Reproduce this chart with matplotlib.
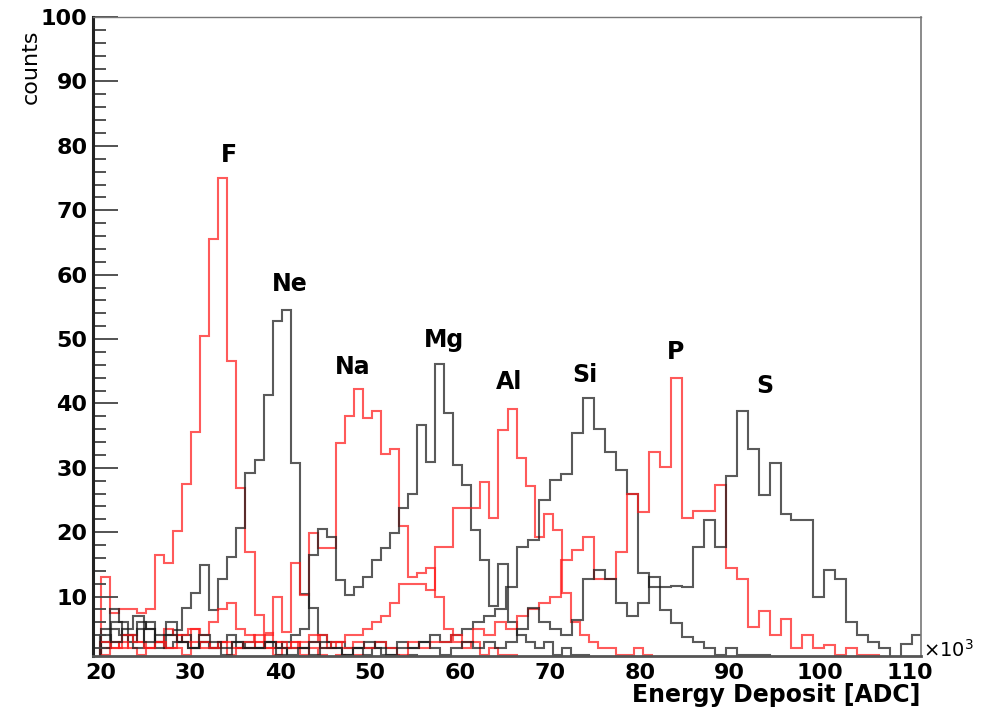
import numpy as np
import matplotlib
matplotlib.use("Agg")
import matplotlib.pyplot as plt
from matplotlib.ticker import MultipleLocator

# ---- binning (in units of 10^3 ADC) ----
light_start, light_width = 20.05, 1.005   # F, Ne, Na, Mg, Al
heavy_start, heavy_width = 20.0, 1.22     # Si, P, S

# ---- counts per bin ----
F_counts = [13, 7.5, 8, 8, 7.5, 8, 16.5, 15.2, 20.2, 27.5, 35.5, 50.5, 65.6, 75, 46.6,
            26.8, 17, 7.1, 4.3, 3, 2, 3, 1, 2, 1, 0, 1, 0, 1]
Ne_counts = [5, 8, 6, 4, 6, 5, 3, 4, 4.8, 8.2, 10.5, 14.9, 7.9, 12.8, 16.1, 20.6, 29.2,
             31.2, 41.3, 52.8, 54.5, 30.8, 10.4, 8.2, 4, 3, 3, 2, 2, 1, 2, 1, 1, 0, 1]
Na_counts = [2, 3, 2, 4, 3, 2, 3, 5, 4, 3, 5, 4, 6, 8, 9, 5, 4, 3, 4, 10, 4.5, 15.2,
             10.2, 19.9, 17.5, 17.5, 33.8, 38, 42.2, 37.7, 38.8, 32.1, 33, 20.9, 13.1,
             13.6, 14.4, 10, 5, 3, 2, 3, 1, 2, 1, 1]
Mg_counts = [3, 5, 4, 3, 5, 6, 3, 2, 3, 4, 2, 3, 2, 3, 4, 2, 3, 2, 3, 2, 3, 4, 5, 16.5,
             20.5, 19.3, 12.6, 10.2, 11.5, 13.1, 15.7, 17.5, 19.8, 23.7, 26, 36.6, 30.9,
             46.2, 38.5, 30.4, 27.3, 20.3, 15.7, 8.5, 15, 6, 4, 3, 2, 3, 1, 2, 1, 1]
Al_counts = [1, 2, 3, 2, 1, 2, 3, 2, 2, 1, 3, 2, 2, 3, 1, 2, 2, 3, 2, 1, 2, 3, 2, 3, 4,
             2, 3, 4, 4, 5, 6, 7, 9, 12, 12, 12, 11, 17.7, 17.7, 23.7, 23.7, 23.7, 27.8,
             22.2, 35.9, 39.2, 31.5, 27.1, 19.3, 22.9, 20.4, 10.5, 6, 4, 3, 2, 2, 1, 1,
             2, 1]
Si_counts = [2, 6, 4, 2, 5, 2, 4, 3, 2, 3, 2, 1, 3, 2, 2, 3, 1, 2, 2, 1, 3, 2, 1, 2, 2,
             3, 2, 3, 2, 3, 4, 3, 4, 5, 6, 7, 8, 11.5, 17.7, 18.8, 25, 28.1, 29.1, 35.4,
             40.8, 36.1, 32.5, 29.7, 26, 13.6, 11.5, 7.9, 5.9, 3.8, 3, 2, 1, 2, 1, 1, 1]
P_counts = [3, 2, 4, 3, 2, 3, 2, 4, 5, 3, 2, 3, 2, 3, 4, 2, 3, 2, 3, 4, 2, 3, 2, 3, 2,
            3, 2, 1, 3, 2, 3, 3, 4, 3, 5, 4, 6, 5, 7, 8, 9, 10, 15.7, 17.2, 19.3, 12.8,
            12.8, 17, 26, 23.2, 32.5, 30.2, 44, 22.2, 23.3, 23.3, 27.3, 14.4, 12.8, 5.3,
            7.7, 4, 6.5, 2, 4, 2, 2.5, 1, 2, 1, 1]
S_counts = [4, 3, 5, 7, 3, 4, 6, 3, 2, 4, 3, 2, 3, 2, 2, 3, 2, 1, 2, 3, 2, 2, 1, 2, 3,
            2, 1, 2, 2, 3, 2, 1, 2, 3, 2, 3, 2, 3, 5, 8.2, 6, 5, 4, 6.4, 12.8, 14.1, 12.8,
            9, 7, 9, 13.1, 11.5, 11.7, 11.5, 17.7, 21.9, 17.7, 28.8, 38.9, 32.9, 25.8,
            30.7, 22.9, 21.9, 21.9, 10, 14.1, 12.8, 6, 4, 3, 2, 0, 2.7, 4]

elements = ["F", "Ne", "Na", "Mg", "Al", "Si", "P", "S"]
label_x = [34.3, 41.1, 48.0, 58.2, 65.4, 73.9, 84.0, 93.9]
label_y = [78.6, 58.5, 45.7, 49.8, 43.3, 44.4, 48.0, 42.7]

series = [
    (F_counts, light_start, light_width, "#ff1a1a"),
    (Ne_counts, light_start, light_width, "#1a1a1a"),
    (Na_counts, light_start, light_width, "#ff1a1a"),
    (Mg_counts, light_start, light_width, "#1a1a1a"),
    (Al_counts, light_start, light_width, "#ff1a1a"),
    (Si_counts, heavy_start, heavy_width, "#1a1a1a"),
    (P_counts, heavy_start, heavy_width, "#ff1a1a"),
    (S_counts, heavy_start, heavy_width, "#1a1a1a"),
]

fig = plt.figure(figsize=(9.84, 7.13), dpi=100)
ax = fig.add_axes([0.0945, 0.080, 0.8415, 0.896])

for counts, start, width, color in series:
    c = np.asarray(counts, dtype=float)
    edges = start + width * np.arange(len(c) + 1)
    ax.stairs(c, edges, baseline=0, color=color, lw=1.5, alpha=0.72)

for name, lx, ly in zip(elements, label_x, label_y):
    ax.text(lx, ly, name, ha="center", va="center", fontsize=17,
            fontweight="bold", family="DejaVu Sans")

ax.set_xlim(19.17, 111.27)
ax.set_ylim(0.78, 100)

ax.yaxis.set_minor_locator(MultipleLocator(2))
ax.set_xticks(np.arange(20, 111, 10))
ax.set_yticks(np.arange(10, 101, 10))

ax.tick_params(axis="y", which="major", direction="in", length=18, width=1.3,
               color="#444444", labelsize=16, pad=4)
ax.tick_params(axis="y", which="minor", direction="in", length=9, width=1.3,
               color="#444444")
ax.tick_params(axis="x", which="major", direction="in", length=0, labelsize=16, pad=5)
for lab in ax.get_xticklabels() + ax.get_yticklabels():
    lab.set_fontweight("bold")

ax.spines["left"].set_linewidth(2.2)
ax.spines["left"].set_color("#222222")
ax.spines["bottom"].set_linewidth(2.0)
ax.spines["bottom"].set_color("#555555")
ax.spines["top"].set_linewidth(1.0)
ax.spines["top"].set_color("#777777")
ax.spines["right"].set_linewidth(1.2)
ax.spines["right"].set_color("#777777")

fig.text(0.031, 0.958, "counts", rotation=90, ha="center", va="top", fontsize=16)
fig.text(0.935, 0.008, "Energy Deposit [ADC]", ha="right", va="bottom",
         fontsize=17, fontweight="bold")
fig.text(0.938, 0.089, "\u00d710$^{3}$", ha="left", va="center", fontsize=14)

fig.savefig("out.png", dpi=100)
